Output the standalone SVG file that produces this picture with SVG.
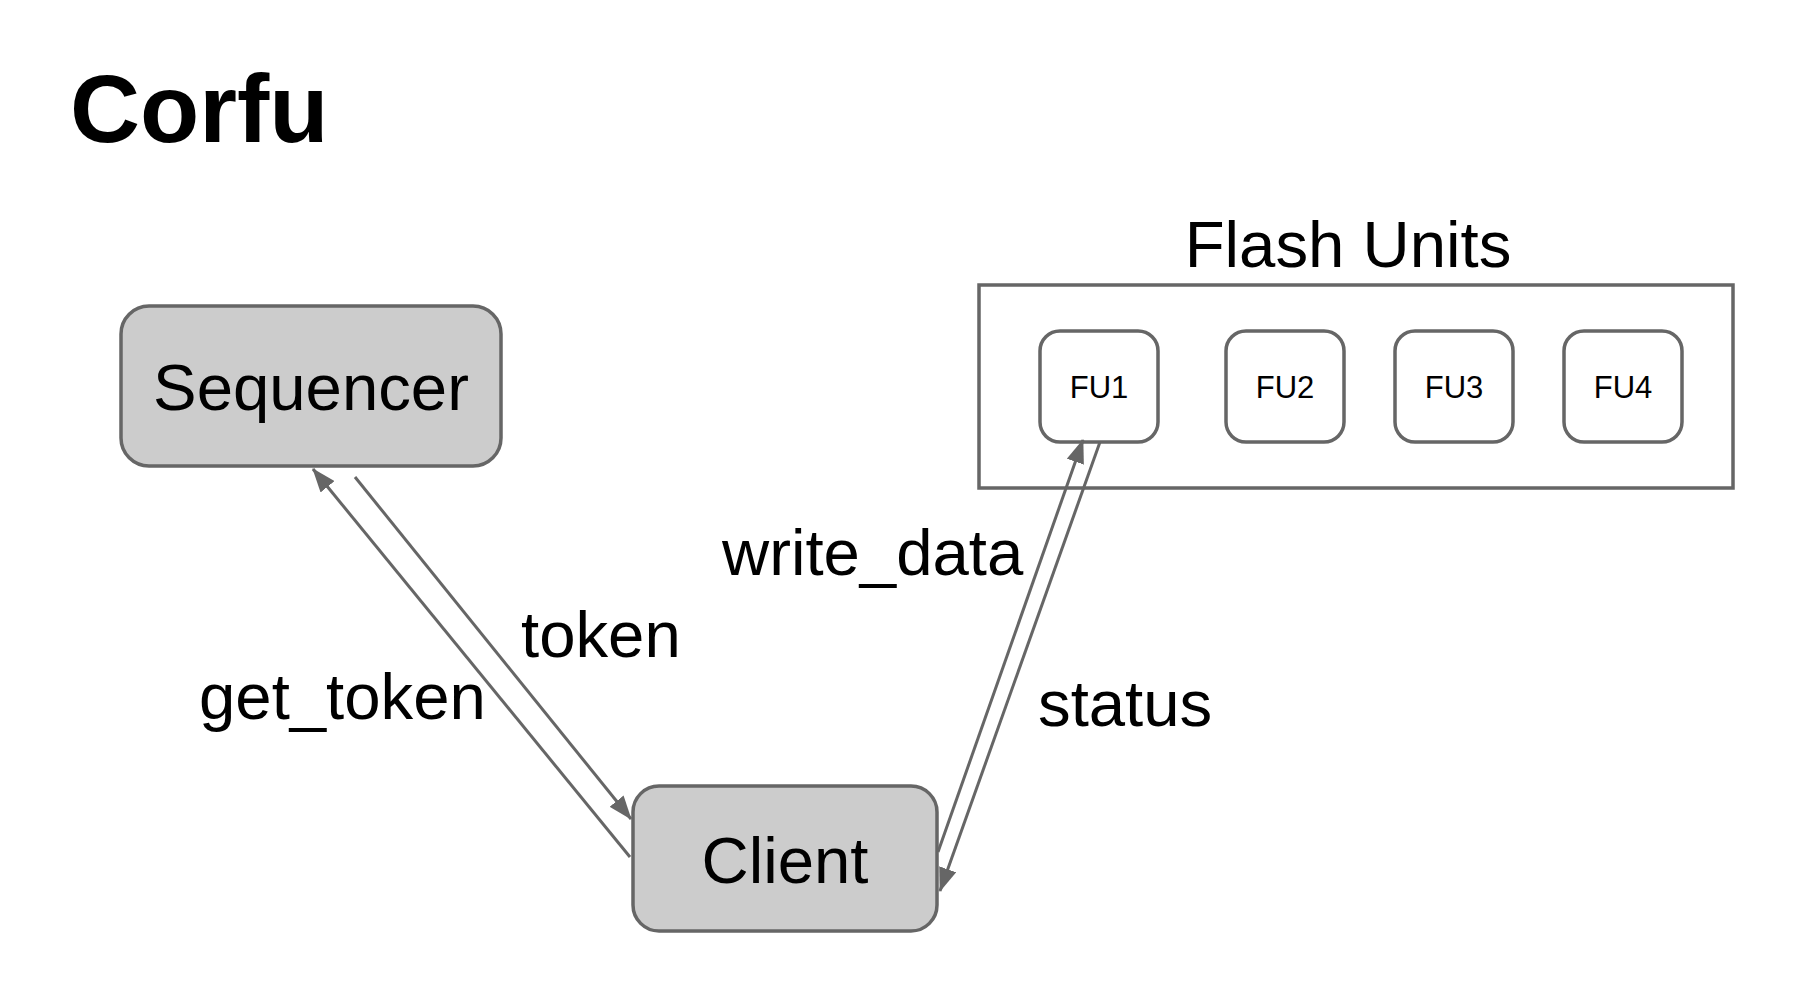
<svg xmlns="http://www.w3.org/2000/svg" width="1802" height="1002" viewBox="0 0 1802 1002">
<style>
  text { font-family: "Liberation Sans", Arial, sans-serif; fill: #000; }
  .big { font-size: 65.3px; }
  .fu { font-size: 31px; }
  .gray { fill: #cccccc; stroke: #666666; stroke-width: 3.5; }
  .white { fill: #ffffff; stroke: #666666; stroke-width: 3.5; }
  .conn { stroke: #666666; stroke-width: 3; fill: none; marker-end: url(#arrow); }
</style>
<defs>
  <marker id="arrow" markerUnits="userSpaceOnUse" viewBox="0 0 24 18" markerWidth="24" markerHeight="18" refX="23" refY="9" orient="auto">
    <path d="M0,0 L24,9 L0,18 z" fill="#666666"/>
  </marker>
</defs>
<rect width="1802" height="1002" fill="#ffffff"/>
<text id="title" x="70" y="142" font-size="97" font-weight="bold">Corfu</text>

<g id="flash-units">
  <rect class="white" x="979" y="285" width="754" height="203"/>
  <text class="big" x="1348" y="267" text-anchor="middle">Flash Units</text>
</g>
<g id="fu1">
  <rect class="white" x="1040" y="331" width="118" height="111" rx="20"/>
  <text class="fu" x="1099" y="398" text-anchor="middle">FU1</text>
</g>
<g id="fu2">
  <rect class="white" x="1226" y="331" width="118" height="111" rx="20"/>
  <text class="fu" x="1285" y="398" text-anchor="middle">FU2</text>
</g>
<g id="fu3">
  <rect class="white" x="1395" y="331" width="118" height="111" rx="20"/>
  <text class="fu" x="1454" y="398" text-anchor="middle">FU3</text>
</g>
<g id="fu4">
  <rect class="white" x="1564" y="331" width="118" height="111" rx="20"/>
  <text class="fu" x="1623" y="398" text-anchor="middle">FU4</text>
</g>

<g id="sequencer">
  <rect class="gray" x="121" y="306" width="380" height="160" rx="28"/>
  <text class="big" x="311" y="410" text-anchor="middle">Sequencer</text>
</g>
<g id="client">
  <rect class="gray" x="633" y="786" width="304" height="145" rx="26"/>
  <text class="big" x="785" y="883" text-anchor="middle">Client</text>
</g>

<g id="connectors">
  <line class="conn" x1="630" y1="857" x2="313" y2="469"/>
  <line class="conn" x1="355" y1="477" x2="631" y2="819"/>
  <line class="conn" x1="938" y1="852" x2="1083" y2="440"/>
  <line class="conn" x1="1100" y1="442" x2="940" y2="891"/>
  <text class="big" x="199" y="719">get_token</text>
  <text class="big" x="521" y="657">token</text>
  <text class="big" x="722" y="575">write_data</text>
  <text class="big" x="1038" y="726">status</text>
</g>
</svg>
